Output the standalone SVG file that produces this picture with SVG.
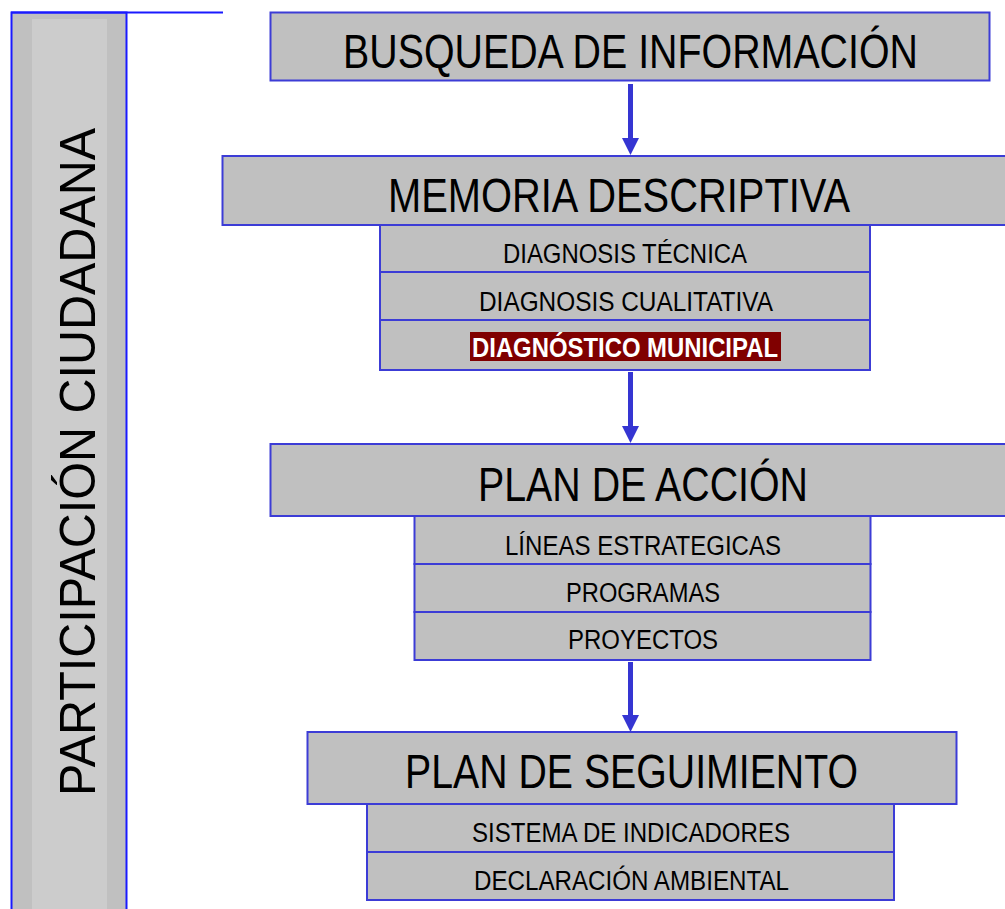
<svg xmlns="http://www.w3.org/2000/svg" width="1005" height="909" viewBox="0 0 1005 909">
<style>
.box{fill:#c0c0c0;stroke:#3c3cd6;stroke-width:2}
.t{font-family:"Liberation Sans",Arial,sans-serif;fill:#000;text-anchor:middle}
.big{font-size:48px}
.sm{font-size:27px}
.arrow{fill:#3535d2}
</style>
<rect width="1005" height="909" fill="#fff"/>
<g id="participacion">
<rect x="11.5" y="12.5" width="115" height="910" fill="#c0c0c0" stroke="#1a1aff" stroke-width="2"/>
<rect x="32" y="19" width="75" height="900" fill="#cccccc"/>
<line x1="11" y1="12.5" x2="223" y2="12.5" stroke="#1a1aff" stroke-width="2"/>
<text class="t" font-size="50" transform="translate(95,462) rotate(-90)" textLength="668" lengthAdjust="spacingAndGlyphs">PARTICIPACIÓN CIUDADANA</text>
</g>
<g id="busqueda">
<rect class="box" x="270.5" y="12.5" width="719" height="68"/>
<text class="t big" x="630.5" y="68" textLength="575" lengthAdjust="spacingAndGlyphs">BUSQUEDA DE INFORMACIÓN</text>
</g>
<g id="memoria">
<rect class="box" x="222.5" y="156" width="800" height="69"/>
<text class="t big" x="619" y="212" textLength="462" lengthAdjust="spacingAndGlyphs">MEMORIA DESCRIPTIVA</text>
<rect class="box" x="380" y="225" width="490" height="47"/>
<text class="t sm" x="625" y="263" textLength="244" lengthAdjust="spacingAndGlyphs">DIAGNOSIS TÉCNICA</text>
<rect class="box" x="380" y="272" width="490" height="48"/>
<text class="t sm" x="626" y="311" textLength="294" lengthAdjust="spacingAndGlyphs">DIAGNOSIS CUALITATIVA</text>
<rect class="box" x="380" y="320" width="490" height="50"/>
<rect x="470" y="332" width="311" height="29" fill="#800000"/>
<text class="t sm" x="625" y="357" fill="#fff" style="fill:#fff" font-weight="bold" textLength="306" lengthAdjust="spacingAndGlyphs">DIAGNÓSTICO MUNICIPAL</text>
</g>
<g id="plan-accion">
<rect class="box" x="270.5" y="444" width="750" height="72"/>
<text class="t big" x="643" y="501" textLength="330" lengthAdjust="spacingAndGlyphs">PLAN DE ACCIÓN</text>
<rect class="box" x="414.5" y="516" width="456" height="48"/>
<text class="t sm" x="643" y="555" textLength="276" lengthAdjust="spacingAndGlyphs">LÍNEAS ESTRATEGICAS</text>
<rect class="box" x="414.5" y="564" width="456" height="48"/>
<text class="t sm" x="643" y="602" textLength="154" lengthAdjust="spacingAndGlyphs">PROGRAMAS</text>
<rect class="box" x="414.5" y="612" width="456" height="48"/>
<text class="t sm" x="643" y="649" textLength="150" lengthAdjust="spacingAndGlyphs">PROYECTOS</text>
</g>
<g id="plan-seguimiento">
<rect class="box" x="307.5" y="732" width="649" height="72"/>
<text class="t big" x="631.5" y="788" textLength="453" lengthAdjust="spacingAndGlyphs">PLAN DE SEGUIMIENTO</text>
<rect class="box" x="367" y="804" width="527" height="48"/>
<text class="t sm" x="631" y="842" textLength="318" lengthAdjust="spacingAndGlyphs">SISTEMA DE INDICADORES</text>
<rect class="box" x="367" y="852" width="527" height="48"/>
<text class="t sm" x="631.5" y="890" textLength="315" lengthAdjust="spacingAndGlyphs">DECLARACIÓN AMBIENTAL</text>
</g>
<g id="connectors">
<polygon class="arrow" points="628,84 633,84 633,138 639,138 630.5,155 622,138 628,138"/>
<polygon class="arrow" points="628,372 633,372 633,426 639,426 630.5,443 622,426 628,426"/>
<polygon class="arrow" points="628,662 633,662 633,715 639,715 630.5,732 622,715 628,715"/>
</g>
</svg>
